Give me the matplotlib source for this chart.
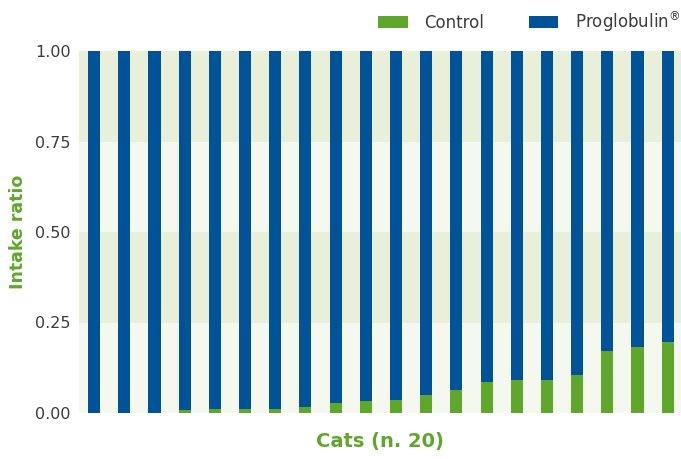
import matplotlib
matplotlib.use('Agg')
import matplotlib.pyplot as plt
import numpy as np

# intake ratio per cat (sorted)
control = [0.0, 0.0, 0.0, 0.008, 0.011, 0.011, 0.011, 0.016, 0.027, 0.033,
           0.036, 0.05, 0.063, 0.085, 0.091, 0.091, 0.105, 0.171, 0.182, 0.196]
proglobulin = [1 - c for c in control]
yticks = [0.0, 0.25, 0.50, 0.75, 1.00]
ylabels = ['0.00', '0.25', '0.50', '0.75', '1.00']

green = '#5ea72b'
blue = '#005398'
band_dark = '#e8f0da'
band_light = '#f5f8ee'
textcol = '#3c3c3c'

fig = plt.figure(figsize=(6.81, 4.59), dpi=100)
ax = fig.add_axes([79 / 681, 1 - 413 / 459, 602 / 681, 362 / 459])

# alternating background bands
for i in range(4):
    ax.axhspan(yticks[i], yticks[i + 1],
               color=band_dark if i % 2 == 1 else band_light, lw=0, zorder=0)

ind = np.arange(len(control))
w = 0.4
p1 = ax.bar(ind, control, w, color=green, zorder=2)
p2 = ax.bar(ind, proglobulin, w, bottom=control, color=blue, zorder=2)

ax.set_xlim(-0.5, 19.44)
ax.set_ylim(0, 1.0)
ax.set_xticks([])
ax.set_yticks(yticks)
ax.set_yticklabels(ylabels, fontsize=11.5, color=textcol)
ax.tick_params(axis='y', length=0, pad=6)
for s in ax.spines.values():
    s.set_visible(False)

ax.set_ylabel('Intake ratio', fontsize=12.5, fontweight='bold', color=green)
ax.yaxis.set_label_coords(-0.086, 0.5)
ax.set_xlabel('Cats (n. 20)', fontsize=14, fontweight='bold', color=green, labelpad=14)

fig.legend((p1[0], p2[0]), ('Control', 'Proglobulin$^{®}$'), loc='upper right',
           bbox_to_anchor=(0.999, 0.98), ncol=2, frameon=False, fontsize=12,
           labelcolor=textcol, handlelength=1.75, handleheight=0.7,
           columnspacing=2.7, handletextpad=1.0, borderpad=0, borderaxespad=0)

fig.savefig('out.png', dpi=100)
